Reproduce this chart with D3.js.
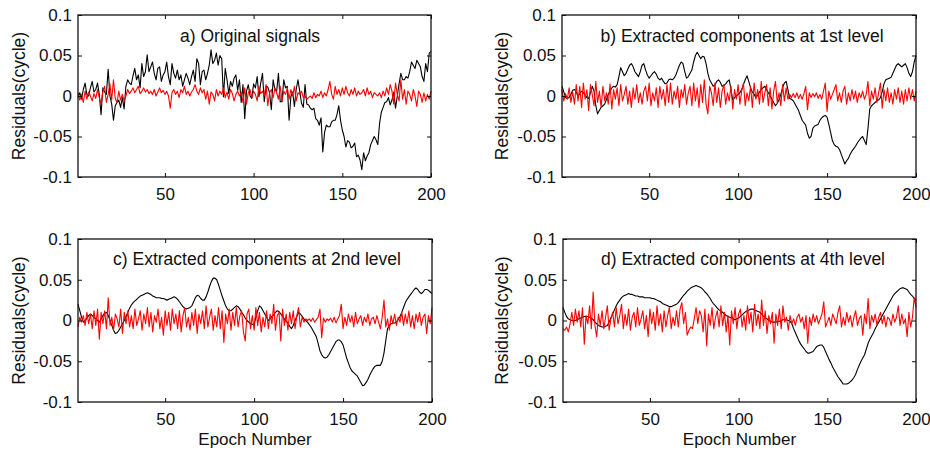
<!DOCTYPE html>
<html>
<head>
<meta charset="utf-8">
<script src="https://cdn.jsdelivr.net/npm/d3@7"></script>
<style>
  body { margin: 0; background: #fff; }
  svg { display: block; font-family: "Liberation Sans", Arial, Helvetica, sans-serif; }
</style>
</head>
<body>
<svg id="chart" width="930" height="452"></svg>
<script>
// Epoch axis and tick labels
const epochs = d3.range(1, 201);
const xTicks = [50, 100, 150, 200];
const yTicks = [-0.1, -0.05, 0, 0.05, 0.1];
const yTickLabels = ["-0.1", "-0.05", "0", "0.05", "0.1"];
const panelTitles = [
  "a) Original signals",
  "b) Extracted components at 1st level",
  "c) Extracted components at 2nd level",
  "d) Extracted components at 4th level"
];
const yLabel = "Residuals(cycle)";
const xLabel = "Epoch Number";

// Residual series, in units of 0.001 cycle (epochs 1..200)
const origBlack = [
  -2, 4, -4, 8, 16, 2, 0, 10, 18, 5,
  8, 16, 2, -23, 10, 5, 2, 33, 0, -10,
  -30, -12, -8, -5, -14, -2, -16, 12, 20, 16,
  14, 25, 34, 20, 26, 10, 40, 24, 30, 51,
  30, 36, 42, 28, 20, 34, 36, 18, 26, 30,
  42, 24, 14, 40, 28, 22, 32, 20, 26, 12,
  20, 28, 22, 14, 24, 32, 18, 46, 40, 14,
  30, 32, 20, 28, 38, 57, 40, 44, 53, 38,
  50, 46, -1, 34, 20, 3, 18, 12, 22, 26,
  7, 20, -8, 14, -28, 6, 14, 0, -3, 15,
  10, 24, -1, 16, 28, -7, 12, 11, 4, -17,
  20, 8, 6, 28, -7, -7, 20, 10, 12, -30,
  -1, 5, -13, 8, 20, 6, -9, -14, 14, -10,
  -11, -15, -17, -15, -28, -30, -36, -27, -69, -45,
  -36, -38, -38, -32, -30, -30, -23, -12, -30, -42,
  -50, -63, -55, -57, -64, -62, -58, -75, -73, -79,
  -91, -70, -80, -74, -70, -60, -55, -50, -54, -60,
  -34, -20, -14, -8, -7, -2, -11, -5, 5, -15,
  0, 15, 28, 20, 20, 24, 22, 30, 42, 38,
  34, 44, 40, 36, 24, 18, 40, 30, 53, 55
];
const origRed = [
  4, -5, 2, -8, 6, -4, 5, 0, -6, 3,
  -3, 8, -2, -10, 5, 12, -8, 2, 15, -5,
  20, -3, -8, 6, -5, 2, -6, 0, 8, 3,
  6, 10, 4, 8, 12, 3, 6, 10, 5, 8,
  3, 6, 2, 8, 0, 5, 10, 4, 7, 2,
  6, 0, -15, 4, 8, 2, 6, -2, 8, 4,
  12, 2, 6, 0, 5, 8, 14, 6, 2, 10,
  4, 8, -4, 6, -10, 5, 2, -6, 8, 0,
  6, 2, 10, -2, 5, -4, 8, 3, -6, 2,
  6, 0, 4, -8, 10, -10, 4, 8, -2, 6,
  2, -6, 12, 3, 6, 0, 14, -12, 4, 8,
  -2, 10, 4, -4, 12, -6, 6, 2, 10, -4,
  8, 0, 12, -6, 4, 2, 6, -2, 0, -4,
  -2, 0, -3, 4, -2, 2, 0, 6, -2, 4,
  0, 8, 18, 2, -4, 12, 2, 8, 0, 10,
  2, 12, 4, 0, 8, 2, 10, 0, 6, 2,
  4, 8, 0, 10, 2, 6, -2, 4, 2, 0,
  4, -2, 6, 0, 10, 2, 14, 6, -10, 16,
  2, -6, 20, -4, 8, -10, 6, 2, -6, 8,
  0, -13, 6, 2, -8, 4, -6, 2, -4, 6
];
const level1Black = [
  12, 5, -2, -3, -2, 2, 7, 8, 5, 0,
  3, 6, 4, 1, -2, -3, 4, 12, 6, -12,
  -22, -18, -14, -12, -10, -4, 2, 6, 10, 12,
  11, 14, 24, 35, 30, 25, 28, 33, 38, 40,
  36, 30, 27, 24, 30, 38, 40, 32, 26, 22,
  25, 28, 30, 27, 22, 20, 22, 18, 15, 16,
  20, 21, 20, 22, 26, 32, 38, 42, 40, 30,
  22, 24, 28, 32, 42, 50, 54, 50, 46, 49,
  48, 40, 28, 20, 16, 12, 14, 18, 20, 17,
  12, 13, 15, 18, 20, 8, -5, -2, 0, 2,
  4, 8, 14, 20, 25, 18, 10, 5, 2, -2,
  1, 5, 8, 10, 12, 8, 4, 0, -4, -8,
  -12, -9, -5, 2, 10, 16, 18, 8, -3, -4,
  -6, -10, -14, -18, -24, -30, -33, -36, -46, -52,
  -50, -40, -37, -36, -35, -30, -27, -25, -24, -26,
  -35, -45, -55, -60, -62, -63, -66, -72, -78, -84,
  -80, -77, -72, -68, -65, -62, -58, -55, -52, -50,
  -55, -60, -40, -16, -12, -10, -8, -6, -5, -2,
  5, 15, 20, 21, 22, 23, 28, 33, 38, 40,
  38, 36, 38, 40, 35, 28, 24, 30, 42, 50
];
const level1Red = [
  8, -6, 3, -4, 10, -8, 5, -10, 14, -6,
  12, -14, 16, -4, 8, -18, 14, 2, -12, 18,
  -8, 6, -14, 12, -6, 4, -10, 15, -16, 8,
  -4, 10, -12, 14, -6, 2, 12, -10, 6, -14,
  10, -4, 14, -8, 4, -10, 6, 12, -6, 16,
  -12, 4, -6, 10, -14, 12, -4, 8, -12, 14,
  -8, 16, -10, 6, -4, 12, -14, 8, -2, 14,
  -10, 4, 12, -12, 16, -6, 10, -14, 14, -8,
  20, -10, -22, 12, 4, -12, 16, -8, 10, -14,
  6, 14, -10, 4, -6, 12, -16, 8, -4, 14,
  -10, 6, 16, -12, 4, -6, 12, -14, 16, -4,
  8, -10, 18, -8, 4, 14, -12, 10, -16, 6,
  18, -8, 4, -12, 14, -6, 10, -4, 2, -2,
  3, -2, 4, -3, 2, -4, 3, 12, -17, 4,
  -2, 3, -1, 4, -3, 2, -4, 6, 16, -19,
  6, -4, 2, 8, 14, -6, 4, -8, 6, 12,
  -10, 4, -6, 8, -4, 6, -8, 4, -2, 6,
  -4, 2, 18, -12, 6, -4, 10, -8, 4, 16,
  -15, 8, -6, 10, -8, 4, -10, 8, -4, 10,
  -8, 6, -10, 8, -6, 10, -4, 8, -6, 6
];
const level2Black = [
  20, 12, 4, -2, 0, 3, 6, 8, 6, 4,
  2, 0, -2, 2, 6, 9, 10, 6, 0, -6,
  -12, -16, -15, -12, -8, -4, 0, 5, 10, 15,
  19, 22, 24, 26, 28, 30, 31, 32, 33, 34,
  33, 32, 30, 29, 28, 28, 28, 27, 27, 26,
  25, 26, 27, 28, 29, 28, 26, 23, 20, 17,
  15, 14, 15, 16, 18, 23, 28, 31, 30, 27,
  25, 25, 29, 35, 42, 48, 52, 52, 50, 44,
  37, 30, 24, 18, 14, 12, 12, 14, 16, 18,
  17, 14, 10, 7, 3, 0, -2, -4, -5, -4,
  4, 12, 18, 16, 12, 8, 4, 0, 2, 5,
  7, 10, 12, 11, 8, 5, 2, -1, -3, -7,
  -10, -6, 0, 5, 10, 8, 5, 2, 0, -2,
  -5, -8, -12, -16, -20, -28, -37, -42, -45, -46,
  -45, -42, -38, -34, -30, -26, -24, -24, -26, -30,
  -38, -46, -52, -58, -62, -64, -66, -68, -72, -76,
  -80, -79, -76, -72, -67, -63, -59, -56, -55, -55,
  -55, -50, -40, -25, -10, -6, -4, -3, -3, -2,
  1, 5, 10, 16, 22, 26, 29, 32, 35, 38,
  40, 38, 35, 33, 35, 38, 38, 37, 35, 33
];
const level2Red = [
  -8, 4, -2, 6, -6, 10, -4, 8, -10, 12,
  -6, 14, -23, 10, -4, 12, -10, 28, -6, 4,
  -12, 8, 2, -8, 14, -16, 10, -4, 12, -8,
  6, -10, 14, -6, 2, 12, -12, 8, -4, 16,
  -8, 10, -14, 6, -2, 14, -10, 4, -18, 12,
  -6, 10, -12, 14, -4, 8, -10, 12, -14, 6,
  16, -8, 4, -12, 10, -6, 14, -16, 8, -4,
  12, -10, 18, -8, 4, 14, -12, 6, -8, 16,
  -10, 12, -27, 8, -4, 14, -12, 10, -6, 16,
  -8, 6, 12, -14, -25, 8, 14, -10, 6, -12,
  16, -6, 10, -14, 4, -8, 12, -10, 8, -4,
  20, -12, 6, 10, -25, 14, -6, 8, -12, 10,
  -4, 12, -10, 6, 16, -8, 4, -2, 2, 0,
  2, -1, 3, -2, 1, 4, 14, -21, 3, -2,
  2, 0, 3, -2, 4, -3, 2, 6, 20, -10,
  4, -6, 8, -2, 6, -8, 10, -4, 2, 6,
  -6, 4, -2, 8, -6, 2, 4, -4, 6, -2,
  -10, 4, 25, -8, 2, -12, 6, -4, 8, -6,
  4, -2, 10, -6, 8, -4, 12, -8, 6, -10,
  8, -2, 10, -6, 4, 8, -16, 6, -4, 16
];
const level4Black = [
  16, 10, 5, 2, 1, 0, 0, 0, 1, 2,
  3, 4, 5, 5, 5, 4, 3, 1, -2, -4,
  -6, -7, -8, -8, -7, -6, -2, 3, 8, 13,
  18, 22, 25, 28, 30, 31, 32, 33, 32, 32,
  31, 30, 30, 29, 29, 29, 28, 28, 28, 28,
  27, 27, 26, 25, 24, 23, 21, 20, 19, 18,
  17, 17, 18, 19, 20, 22, 25, 28, 31, 33,
  36, 38, 40, 41, 42, 43, 42, 41, 40, 38,
  35, 33, 30, 27, 23, 20, 18, 15, 13, 12,
  10, 8, 6, 5, 4, 3, 2, 1, 2, 3,
  5, 7, 9, 11, 12, 13, 14, 14, 13, 12,
  11, 10, 8, 5, 3, 2, 0, -1, -2, -2,
  -2, -1, -1, 0, 1, 1, 1, 0, -1, -4,
  -10, -15, -20, -25, -29, -32, -35, -38, -40, -40,
  -39, -38, -35, -32, -31, -30, -30, -33, -38, -43,
  -48, -52, -57, -61, -65, -69, -72, -75, -78, -78,
  -78, -77, -75, -73, -70, -66, -60, -55, -50, -46,
  -42, -35, -28, -23, -19, -15, -10, -6, -2, 2,
  6, 10, 14, 18, 22, 26, 30, 33, 35, 37,
  39, 40, 40, 39, 38, 35, 32, 30, 27, 25
];
const level4Red = [
  -10, -12, -8, -14, -4, 10, -6, 14, -2, 12,
  -8, 16, -29, 6, -4, 18, -10, 35, -6, -20,
  8, -6, 12, -10, 4, 18, -12, 2, 10, -8,
  16, -4, 6, 20, -10, 8, -6, 14, -12, 4,
  10, -8, 16, -6, 2, 12, -10, 6, -20, 14,
  -4, 10, -12, 18, -6, 8, -14, 12, -8, 6,
  16, -10, 4, -6, 12, -8, 14, 22, -4, 10,
  -18, -12, -8, -10, 2, 16, -4, 12, 6, -14,
  14, -31, 8, -6, 16, -10, 4, 12, -8, 18,
  -6, 10, -14, 6, -30, 12, -4, 16, -10, 8,
  14, -8, 6, -12, 18, -4, 10, -14, 20, -6,
  8, -10, 25, -6, 12, -16, 6, -4, 10, -28,
  8, -6, 14, -10, 18, -2, 4, -12, 6, -4,
  2, -6, 4, 8, -2, 4, -10, 6, -28, 4,
  -6, 8, -2, 6, -4, 2, 8, 23, -8, -2,
  4, -6, 8, 2, -4, 10, 18, -8, 4, -6,
  10, -2, 6, -8, 4, 12, -6, 2, 6, -18,
  8, -4, 27, -10, 6, -2, 8, -6, 4, 10,
  -4, 6, -8, 4, 2, -6, 8, -2, 4, 18,
  -6, 8, -4, 2, -20, 10, -8, 4, 28, 16
];

const toCycles = v => v / 1000;
const seriesSets = [
  [origBlack, origRed],
  [level1Black, level1Red],
  [level2Black, level2Red],
  [level4Black, level4Red]
].map(pair => pair.map(arr => arr.map(toCycles)));

// Plot-area boxes for the 2x2 grid
const boxes = [
  { x0: 78,  x1: 431, y0: 15,  y1: 177, titleX: 250, titleY: 42,  labelX: 24.5 },
  { x0: 562, x1: 916, y0: 15,  y1: 177, titleX: 742, titleY: 42,  labelX: 507.5 },
  { x0: 78,  x1: 432, y0: 239, y1: 402, titleX: 257, titleY: 265, labelX: 24.5 },
  { x0: 563, x1: 916, y0: 239, y1: 402, titleX: 743, titleY: 265, labelX: 507.5 }
];

const svg = d3.select("#chart");
const ink = "#111";

boxes.forEach((b, k) => {
  const x = d3.scaleLinear().domain([1, 200]).range([b.x0, b.x1]);
  const y = d3.scaleLinear().domain([-0.1, 0.1]).range([b.y1, b.y0]);
  const g = svg.append("g");

  const line = d3.line().x((d, i) => x(epochs[i])).y(d => y(d));
  const [blk, red] = seriesSets[k];

  g.append("path").datum(blk)
    .attr("fill", "none").attr("stroke", "#000").attr("stroke-width", 1.1)
    .attr("stroke-linejoin", "round").attr("d", line);
  g.append("path").datum(red)
    .attr("fill", "none").attr("stroke", "#ff0000").attr("stroke-width", 1.1)
    .attr("stroke-linejoin", "round").attr("d", line);

  // Left axis with labels, inward ticks
  const left = g.append("g").attr("transform", `translate(${b.x0},0)`)
    .call(d3.axisLeft(y).tickValues(yTicks).tickSize(-4).tickPadding(6)
      .tickFormat((d, i) => yTickLabels[i]));
  // Right axis, ticks only
  const right = g.append("g").attr("transform", `translate(${b.x1},0)`)
    .call(d3.axisRight(y).tickValues(yTicks).tickSize(-4).tickFormat(""));
  // Bottom axis with labels
  const bottom = g.append("g").attr("transform", `translate(0,${b.y1})`)
    .call(d3.axisBottom(x).tickValues(xTicks).tickSize(-4).tickPadding(11));
  // Top axis, ticks only
  const top = g.append("g").attr("transform", `translate(0,${b.y0})`)
    .call(d3.axisTop(x).tickValues(xTicks).tickSize(-4).tickFormat(""));

  [left, right, bottom, top].forEach(a => {
    a.select(".domain").remove();
    a.selectAll("line").attr("stroke", ink).attr("stroke-width", 1);
    a.selectAll("text").attr("fill", ink).style("font-size", "17px")
      .style("font-family", '"Liberation Sans", Arial, sans-serif');
  });

  g.append("rect")
    .attr("x", b.x0).attr("y", b.y0)
    .attr("width", b.x1 - b.x0).attr("height", b.y1 - b.y0)
    .attr("fill", "none").attr("stroke", ink).attr("stroke-width", 1.3);

  g.append("text")
    .attr("x", b.titleX).attr("y", b.titleY)
    .attr("text-anchor", "middle").attr("fill", ink)
    .style("font-size", "17.5px")
    .text(panelTitles[k]);

  g.append("text")
    .attr("transform", `translate(${b.labelX},${(b.y0 + b.y1) / 2}) rotate(-90)`)
    .attr("text-anchor", "middle").attr("fill", ink)
    .style("font-size", "17.5px")
    .text(yLabel);

  if (k >= 2) {
    g.append("text")
      .attr("x", (b.x0 + b.x1) / 2).attr("y", 445)
      .attr("text-anchor", "middle").attr("fill", ink)
      .style("font-size", "17px")
      .text(xLabel);
  }
});
</script>
</body>
</html>
